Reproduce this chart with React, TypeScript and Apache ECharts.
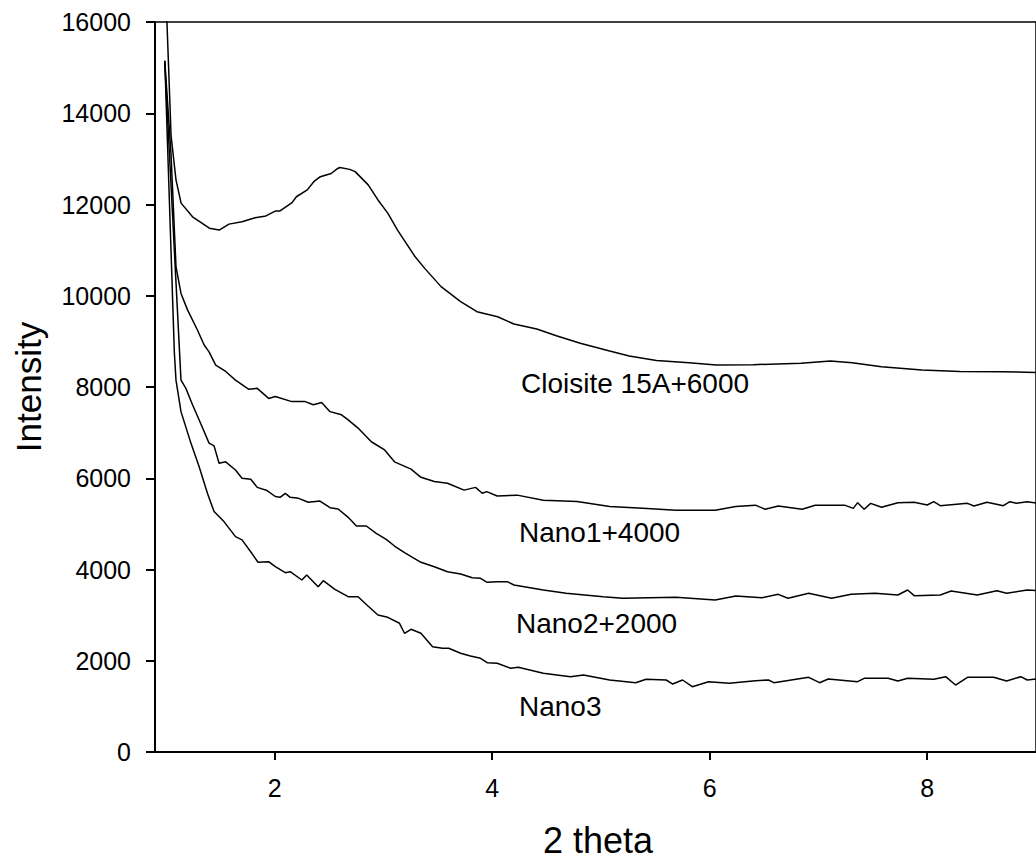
import React, { useEffect, useRef } from "react";
import * as echarts from "echarts";

const xTicks = [2, 4, 6, 8];

const cloisite: number[][] = [
  [0.99, 17300], [1.048, 13500], [1.093, 12540], [1.14, 12030], [1.245, 11730], [1.4, 11480],
  [1.49, 11440], [1.58, 11570], [1.7, 11620], [1.82, 11710], [1.92, 11750], [2.01, 11860],
  [2.05, 11860], [2.16, 12040], [2.2, 12170], [2.3, 12320], [2.36, 12500], [2.42, 12610],
  [2.52, 12680], [2.58, 12790], [2.6, 12810], [2.69, 12770], [2.74, 12720], [2.86, 12430],
  [2.95, 12100], [3.04, 11810], [3.13, 11440], [3.29, 10860], [3.38, 10600], [3.53, 10200],
  [3.71, 9870], [3.86, 9650], [4.05, 9540], [4.2, 9380], [4.41, 9270], [4.59, 9125],
  [4.81, 8960], [5.08, 8790], [5.26, 8680], [5.51, 8580], [5.81, 8530], [6.06, 8480],
  [6.4, 8490], [6.84, 8520], [7.11, 8570], [7.31, 8530], [7.58, 8445], [7.95, 8373],
  [8.3, 8340], [8.69, 8336], [9.0, 8320],
];

const nano1: number[][] = [
  [0.99, 15150], [1.047, 13120], [1.093, 10640], [1.139, 10050], [1.199, 9690], [1.29, 9250],
  [1.352, 8920], [1.397, 8770], [1.458, 8480], [1.55, 8340], [1.64, 8150], [1.763, 7950],
  [1.84, 7970], [1.945, 7750], [2.006, 7790], [2.158, 7680], [2.28, 7680], [2.356, 7610],
  [2.432, 7660], [2.509, 7460], [2.615, 7390], [2.676, 7280], [2.767, 7100], [2.889, 6800],
  [3.011, 6620], [3.102, 6360], [3.254, 6200], [3.345, 6020], [3.468, 5930], [3.589, 5890],
  [3.742, 5740], [3.847, 5800], [3.909, 5670], [3.95, 5706], [4.046, 5610], [4.23, 5630],
  [4.47, 5520], [4.78, 5490], [5.08, 5380], [5.385, 5340], [5.69, 5300], [6.05, 5300],
  [6.24, 5380], [6.42, 5410], [6.51, 5320], [6.63, 5390], [6.85, 5320], [6.97, 5410],
  [7.24, 5410], [7.32, 5340], [7.36, 5465], [7.42, 5320], [7.48, 5450], [7.58, 5363],
  [7.73, 5465], [7.88, 5473], [8.0, 5414], [8.06, 5486], [8.12, 5399], [8.37, 5450],
  [8.43, 5392], [8.55, 5473], [8.7, 5399], [8.76, 5486], [8.82, 5450], [8.92, 5486], [9.0, 5460],
];

const nano2: number[][] = [
  [0.99, 15100], [1.139, 8150], [1.184, 7970], [1.245, 7610], [1.32, 7200], [1.397, 6770],
  [1.443, 6710], [1.489, 6330], [1.55, 6360], [1.64, 6180], [1.7, 6000], [1.78, 5980],
  [1.84, 5800], [1.93, 5730], [2.006, 5600], [2.05, 5582], [2.098, 5670], [2.143, 5582],
  [2.22, 5560], [2.31, 5473], [2.417, 5500], [2.509, 5355], [2.584, 5326], [2.676, 5144],
  [2.752, 4953], [2.843, 4953], [2.934, 4793], [3.026, 4662], [3.102, 4515], [3.194, 4368],
  [3.345, 4158], [3.468, 4061], [3.589, 3952], [3.71, 3901], [3.817, 3820], [3.893, 3807],
  [3.954, 3719], [4.046, 3733], [4.14, 3733], [4.2, 3660], [4.47, 3551], [4.68, 3478],
  [5.02, 3404], [5.2, 3369], [5.69, 3390], [6.05, 3332], [6.24, 3419], [6.48, 3382],
  [6.63, 3456], [6.72, 3369], [6.91, 3478], [7.12, 3369], [7.3, 3456], [7.52, 3478],
  [7.73, 3441], [7.82, 3551], [7.88, 3426], [8.12, 3441], [8.22, 3529], [8.46, 3441],
  [8.64, 3536], [8.73, 3478], [8.92, 3551], [9.0, 3540],
];

const nano3: number[][] = [
  [0.99, 15150], [1.078, 8750], [1.093, 8150], [1.139, 7460], [1.23, 6770], [1.306, 6250],
  [1.382, 5670], [1.443, 5270], [1.534, 5050], [1.64, 4720], [1.7, 4650], [1.79, 4355],
  [1.847, 4158], [1.945, 4171], [2.006, 4061], [2.098, 3930], [2.143, 3952], [2.25, 3770],
  [2.295, 3880], [2.4, 3623], [2.447, 3755], [2.554, 3566], [2.676, 3404], [2.767, 3404],
  [2.858, 3200], [2.95, 3003], [3.04, 2952], [3.148, 2821], [3.194, 2602], [3.254, 2689],
  [3.345, 2602], [3.452, 2308], [3.543, 2273], [3.6, 2273], [3.71, 2163], [3.8, 2104],
  [3.893, 2054], [3.954, 1958], [4.046, 1944], [4.17, 1835], [4.24, 1856], [4.47, 1725],
  [4.72, 1651], [4.84, 1688], [5.08, 1578], [5.32, 1519], [5.415, 1593], [5.6, 1578],
  [5.66, 1490], [5.75, 1578], [5.84, 1432], [5.99, 1541], [6.18, 1505], [6.42, 1563],
  [6.54, 1578], [6.59, 1519], [6.91, 1637], [7.01, 1519], [7.09, 1600], [7.36, 1541],
  [7.42, 1615], [7.64, 1615], [7.73, 1556], [7.82, 1615], [8.06, 1593], [8.17, 1651],
  [8.26, 1468], [8.37, 1637], [8.61, 1637], [8.73, 1556], [8.86, 1651], [8.92, 1578], [9.0, 1600],
];

const seriesNames = ["Cloisite 15A+6000", "Nano1+4000", "Nano2+2000", "Nano3"];
const seriesData = [cloisite, nano1, nano2, nano3];

const FONT = "Liberation Sans, Arial, Helvetica, sans-serif";

export default function App() {
  const ref = useRef<HTMLDivElement>(null);
  useEffect(() => {
    if (!ref.current) return;
    const chart = echarts.init(ref.current, undefined, { renderer: "svg" });
    const labelPos = [
      { x: 521, y: 383 },
      { x: 519, y: 532 },
      { x: 516, y: 623 },
      { x: 519, y: 706 },
    ];
    chart.setOption({
      animation: false,
      backgroundColor: "#fff",
      grid: {
        left: 155,
        top: 22,
        bottom: 108,
        right: -6.5,
        show: true,
        borderColor: "#000",
        borderWidth: 1.5,
      },
      xAxis: {
        type: "value",
        min: 0.9,
        max: 9,
        axisLine: { show: true, lineStyle: { color: "#000", width: 2 } },
        axisTick: { show: true, length: 8, lineStyle: { color: "#000", width: 2 }, customValues: xTicks },
        axisLabel: {
          color: "#000",
          fontSize: 25,
          fontFamily: FONT,
          margin: 23.5,
          customValues: xTicks,
          formatter: (v: number) => String(v),
        },
        splitLine: { show: false },
      },
      yAxis: {
        type: "value",
        min: 0,
        max: 16000,
        interval: 2000,
        axisLine: { show: true, lineStyle: { color: "#000", width: 2 } },
        axisTick: { show: true, length: 9, lineStyle: { color: "#000", width: 2 } },
        axisLabel: {
          color: "#000",
          fontSize: 25,
          fontFamily: FONT,
          margin: 24,
          formatter: (v: number) => String(v),
        },
        splitLine: { show: false },
      },
      series: seriesData.map((d, i) => ({
        name: seriesNames[i],
        type: "line",
        data: d,
        showSymbol: false,
        symbol: "none",
        clip: true,
        lineStyle: { color: "#000", width: 1.5 },
      })),
      graphic: [
        ...seriesNames.map((n, i) => ({
          type: "text",
          x: labelPos[i].x,
          y: labelPos[i].y,
          style: {
            text: n,
            fill: "#000",
            font: `28px ${FONT}`,
            textAlign: "left",
            textVerticalAlign: "middle",
          },
        })),
        {
          type: "text",
          x: 28,
          y: 387,
          rotation: Math.PI / 2,
          style: {
            text: "Intensity",
            fill: "#000",
            font: `35px ${FONT}`,
            textAlign: "center",
            textVerticalAlign: "middle",
          },
        },
        {
          type: "text",
          x: 598,
          y: 840,
          style: {
            text: "2 theta",
            fill: "#000",
            font: `36px ${FONT}`,
            textAlign: "center",
            textVerticalAlign: "middle",
          },
        },
      ],
    });
    return () => chart.dispose();
  }, []);
  return (
    <div
      ref={ref}
      style={{ position: "absolute", left: 0, top: 0, width: 1036, height: 860, background: "#fff" }}
    />
  );
}
